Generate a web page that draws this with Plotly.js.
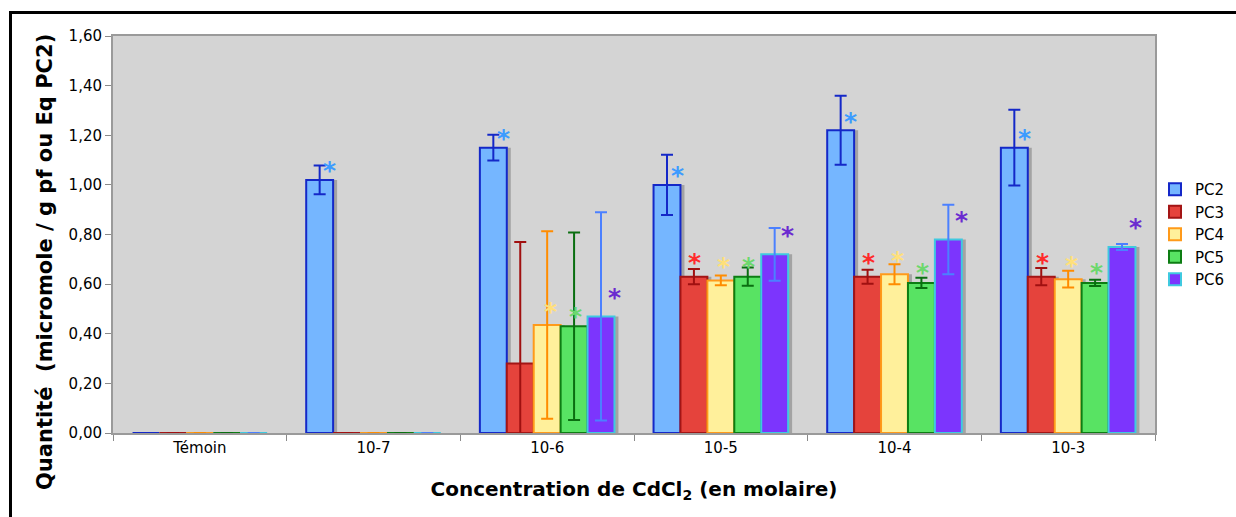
<!DOCTYPE html>
<html>
<head>
<meta charset="utf-8">
<script src="https://cdn.plot.ly/plotly-3.0.1.min.js"></script>
<style>
  html, body { margin: 0; padding: 0; background: #fff; }
  #wrap { position: relative; width: 1236px; height: 517px; overflow: hidden; }
  #chart { width: 1236px; height: 517px; }
  #frame { position: absolute; left: 9px; top: 11px; width: 1400px; height: 700px;
           border-top: 3px solid #000; border-left: 3px solid #000; pointer-events: none; }
</style>
</head>
<body>
<div id="wrap">
  <div id="chart"></div>
  <div id="frame"></div>
</div>
<script>
// ---- data ----
const categories = ['Témoin', '10-7', '10-6', '10-5', '10-4', '10-3'];
const seriesNames = ['PC2', 'PC3', 'PC4', 'PC5', 'PC6'];

const pc2 = [0, 1.02, 1.15, 1.00, 1.22, 1.15];
const pc3 = [0, 0, 0.28, 0.63, 0.63, 0.63];
const pc4 = [0, 0, 0.435, 0.615, 0.64, 0.62];
const pc5 = [0, 0, 0.43, 0.63, 0.605, 0.605];
const pc6 = [0, 0, 0.47, 0.72, 0.78, 0.75];

const pc2Err = [0, 0.058, 0.052, 0.121, 0.139, 0.153];
const pc3Err = [0, 0, 0.49, 0.031, 0.028, 0.035];
const pc4Err = [0, 0, 0.378, 0.020, 0.040, 0.034];
const pc5Err = [0, 0, 0.378, 0.037, 0.021, 0.013];
const pc6Err = [0, 0, 0.42, 0.106, 0.140, 0.012];

// significance markers (*)
const pc2Sig = [0, 1, 1, 1, 1, 1];
const pc3Sig = [0, 0, 0, 1, 1, 1];
const pc4Sig = [0, 0, 1, 1, 1, 1];
const pc5Sig = [0, 0, 1, 1, 1, 1];
const pc6Sig = [0, 0, 1, 1, 1, 1];

// ---- styles ----
const values = [pc2, pc3, pc4, pc5, pc6];
const errors = [pc2Err, pc3Err, pc4Err, pc5Err, pc6Err];
const sigs = [pc2Sig, pc3Sig, pc4Sig, pc5Sig, pc6Sig];
const fills = ['#75b6ff', '#e5433c', '#fff09b', '#58e363', '#7c35fd'];
const outlines = ['#1428c8', '#a31515', '#ff9a1a', '#0d7d13', '#3fc9e0'];
const errColors = ['#1428c8', '#a01010', '#ff8c00', '#0a6e10', '#4b80ff'];
const starColors = ['#3d9bff', '#ff2a2a', '#ffe07a', '#6dd86d', '#6b2bd0'];
const starXShift = [10, 1, 3, 1, 13];
const starYShift = [9, 14, 14, 10, 19];

const barW = 0.155;
const shadowShift = 0.023;
const FONT = 'DejaVu Sans, Verdana, sans-serif';

const traces = [];
// shadows first
values.forEach((v, i) => {
  traces.push({
    type: 'bar', x: categories, y: v, width: barW,
    offset: -2.5 * barW + i * barW + shadowShift,
    marker: { color: '#a3a3a3', line: { width: 0 } },
    showlegend: false, hoverinfo: 'skip'
  });
});
values.forEach((v, i) => {
  traces.push({
    type: 'bar', name: seriesNames[i], legendgroup: seriesNames[i],
    x: categories, y: v, width: barW,
    offset: -2.5 * barW + i * barW,
    marker: { color: fills[i], line: { color: outlines[i], width: 2 } },
    error_y: { type: 'data', array: errors[i], visible: true,
               color: errColors[i], thickness: 2, width: 6 }
  });
});

const annotations = [];
sigs.forEach((s, i) => {
  s.forEach((flag, ci) => {
    if (!flag) return;
    annotations.push({
      xref: 'x', yref: 'y',
      x: ci - 2.5 * barW + i * barW + barW / 2,
      y: values[i][ci],
      text: '*', showarrow: false,
      xshift: starXShift[i], yshift: starYShift[i],
      xanchor: 'center', yanchor: 'middle',
      font: { family: FONT, size: 25, color: starColors[i], weight: 'bold' }
    });
  });
});
// y-axis title
annotations.push({
  xref: 'paper', yref: 'paper',
  x: (45 - 113) / 1042, y: (433 - 262) / 397,
  text: 'Quantité&nbsp;&nbsp;(micromole / g pf ou Eq PC2)',
  textangle: -90, showarrow: false,
  xanchor: 'center', yanchor: 'middle',
  font: { family: FONT, size: 21, color: '#000', weight: 'bold' }
});

const layout = {
  width: 1236, height: 517,
  margin: { l: 113, r: 81, t: 36, b: 84, autoexpand: false },
  paper_bgcolor: '#ffffff',
  plot_bgcolor: '#d4d4d4',
  barmode: 'overlay',
  separators: ', ',
  font: { family: FONT, size: 15, color: '#000' },
  xaxis: {
    type: 'category',
    showgrid: false, zeroline: false,
    showline: true, mirror: true, linecolor: '#9a9a9a', linewidth: 2,
    ticks: 'outside', tickson: 'boundaries', ticklen: 6, tickcolor: '#8a8a8a', tickwidth: 1,
    tickfont: { family: FONT, size: 15, color: '#000' },
    title: {
      text: 'Concentration de CdCl<sub>2</sub> (en molaire)',
      font: { family: FONT, size: 20, color: '#000', weight: 'bold' },
      standoff: 26
    }
  },
  yaxis: {
    range: [0, 1.6], dtick: 0.2, tick0: 0, tickformat: '.2f',
    showgrid: false, zeroline: false,
    showline: true, mirror: true, linecolor: '#9a9a9a', linewidth: 2,
    ticks: 'outside', ticklen: 6, tickcolor: '#8a8a8a', tickwidth: 1,
    tickfont: { family: FONT, size: 15, color: '#000' }
  },
  legend: {
    x: 1.0, y: 0.655, xanchor: 'left', yanchor: 'top',
    bgcolor: 'rgba(0,0,0,0)',
    font: { family: FONT, size: 15, color: '#000' },
    traceorder: 'normal', tracegroupgap: 1
  },
  annotations: annotations
};

Plotly.newPlot('chart', traces, layout, { displayModeBar: false, staticPlot: true });
</script>
</body>
</html>
